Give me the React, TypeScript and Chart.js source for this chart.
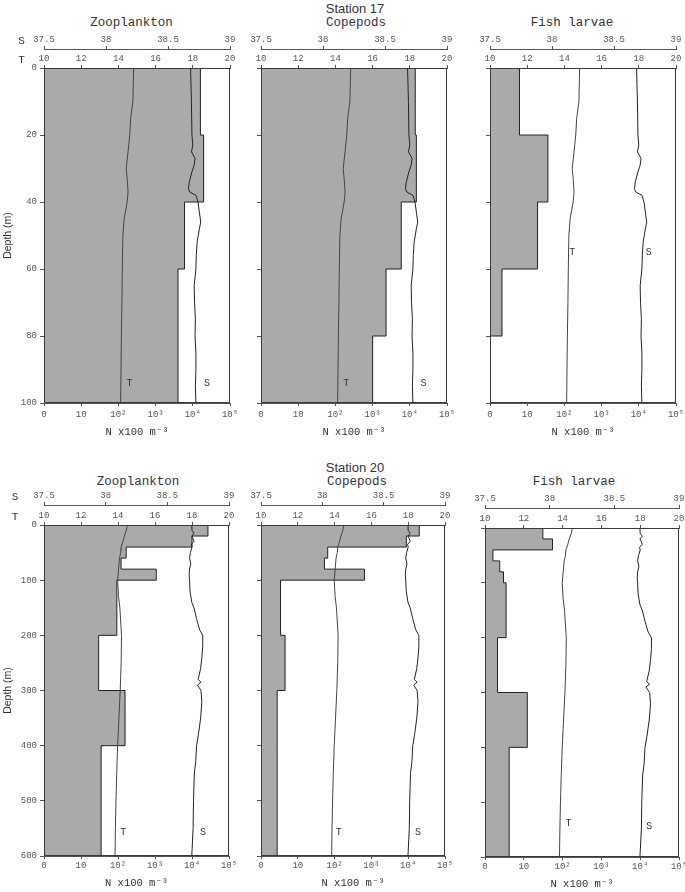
import React, { useEffect, useRef } from 'react';
import { Chart, registerables } from 'chart.js';

Chart.register(...registerables);

const MONO = "'Liberation Mono', 'DejaVu Sans Mono', monospace";
const SANS = "'Liberation Sans', Arial, sans-serif";

// ---------------- data ----------------
const STATION_TITLES = ['Station 17', 'Station 20'];
const GROUP_TITLES = ['Zooplankton', 'Copepods', 'Fish larvae'];

const N_TICK_LABELS = ['0', '10', '10²', '10³', '10⁴', '10⁵'];
const N_TITLE = 'N x100 m⁻³';
const T_TICKS = [10, 12, 14, 16, 18, 20];
const S_TICKS = [37.5, 38, 38.5, 39];
const DEPTH_TICKS_17 = [0, 20, 40, 60, 80, 100];
const DEPTH_TICKS_20 = [0, 100, 200, 300, 400, 500, 600];

// abundance (N x100 m^-3) per depth layer
const BINS_17 = [0, 20, 40, 60, 80, 100];
const ZOO_17 = [16000, 19500, 6000, 4000, 4000];
const COP_17 = [14000, 15000, 5900, 2300, 1000];
const FISH_17 = [5.2, 35, 18, 1.1, 0];

const BINS_20 = [0, 20, 40, 60, 80, 100, 200, 300, 400, 600];
const ZOO_20 = [27000, 10000, 165, 120, 1080, 92, 29, 154, 34];
const COP_20 = [20000, 8900, 64, 52, 645, 2.4, 3.5, 1.75, 1.75];
const FISH_20 = [30, 54, 0.6, 1.4, 2.0, 2.5, 1.1, 11.3, 3.2];

// temperature profiles
const T17_DEPTH = [0, 10, 15, 20, 25, 30, 33, 37, 40, 45, 50, 60, 70, 80, 90, 100];
const T17 = [14.82, 14.78, 14.66, 14.61, 14.52, 14.42, 14.47, 14.52, 14.47, 14.31, 14.24, 14.21, 14.19, 14.16, 14.14, 14.12];
const T20_DEPTH = [0, 10, 20, 30, 40, 50, 60, 80, 100, 130, 150, 200, 250, 300, 350, 400, 450, 500, 550, 600];
const T20 = [14.5, 14.45, 14.34, 14.27, 14.17, 14.15, 14.08, 14.03, 13.98, 14.03, 14.1, 14.19, 14.17, 14.12, 14.05, 13.98, 13.93, 13.89, 13.86, 13.84];

// salinity profiles
const S17_DEPTH = [0, 10, 20, 23, 25, 27, 29, 31, 34, 36, 37, 38, 40, 43, 46, 48, 52, 56, 60, 65, 70, 75, 80, 85, 90, 95, 100];
const S17 = [38.682, 38.689, 38.693, 38.7, 38.689, 38.718, 38.711, 38.693, 38.672, 38.665, 38.675, 38.725, 38.742, 38.753, 38.764, 38.753, 38.735, 38.728, 38.725, 38.711, 38.714, 38.721, 38.718, 38.725, 38.725, 38.721, 38.725];
const S20_DEPTH = [0, 10, 15, 20, 25, 30, 35, 40, 50, 60, 70, 80, 90, 100, 120, 140, 150, 170, 190, 200, 220, 240, 260, 280, 285, 290, 300, 320, 350, 380, 400, 430, 450, 500, 550, 600];
const S20 = [38.698, 38.7, 38.716, 38.698, 38.709, 38.716, 38.695, 38.7, 38.687, 38.68, 38.69, 38.68, 38.677, 38.68, 38.684, 38.698, 38.716, 38.737, 38.762, 38.787, 38.787, 38.78, 38.77, 38.75, 38.772, 38.744, 38.773, 38.78, 38.77, 38.752, 38.737, 38.73, 38.719, 38.712, 38.709, 38.698];

// ---------------- layout ----------------
type PanelCfg = {
  bins: number[]; values: number[];
  tDepth: number[]; t: number[]; sDepth: number[]; s: number[];
  depthTicks: number[];
  l: number; r: number; top: number; bottom: number;
  yW: number; padR: number; sH: number; tH: number; nH: number;
  showDepth: boolean; axisNameDx: number;
  tLabel: number[]; sLabel: number[];
  nTickPad: number; nTitlePad: number;
};

const TOP = { top: 68, bottom: 403, sH: 19, tH: 19, nH: 40, nTickPad: 3, nTitlePad: 4.4 };
const BOT = { top: 525, bottom: 856, sH: 16, tH: 20, nH: 36, nTickPad: 1, nTitlePad: 2.4 };

const PANELS: PanelCfg[] = [
  { ...TOP, bins: BINS_17, values: ZOO_17, tDepth: T17_DEPTH, t: T17, sDepth: S17_DEPTH, s: S17, depthTicks: DEPTH_TICKS_17,
    l: 44, r: 230, yW: 44, padR: 16, showDepth: true, axisNameDx: -22.5, tLabel: [14.6, 94], sLabel: [38.815, 94] },
  { ...TOP, bins: BINS_17, values: COP_17, tDepth: T17_DEPTH, t: T17, sDepth: S17_DEPTH, s: S17, depthTicks: DEPTH_TICKS_17,
    l: 261, r: 447, yW: 15, padR: 16, showDepth: false, axisNameDx: 0, tLabel: [14.58, 94], sLabel: [38.81, 94] },
  { ...TOP, bins: BINS_17, values: FISH_17, tDepth: T17_DEPTH, t: T17, sDepth: S17_DEPTH, s: S17, depthTicks: DEPTH_TICKS_17,
    l: 490, r: 676, yW: 15, padR: 16, showDepth: false, axisNameDx: 0, tLabel: [14.42, 55], sLabel: [38.78, 55] },
  { ...BOT, bins: BINS_20, values: ZOO_20, tDepth: T20_DEPTH, t: T20, sDepth: S20_DEPTH, s: S20, depthTicks: DEPTH_TICKS_20,
    l: 44, r: 229, yW: 44, padR: 16, showDepth: true, axisNameDx: -29, tLabel: [14.29, 558], sLabel: [38.79, 558] },
  { ...BOT, bins: BINS_20, values: COP_20, tDepth: T20_DEPTH, t: T20, sDepth: S20_DEPTH, s: S20, depthTicks: DEPTH_TICKS_20,
    l: 261, r: 445, yW: 15, padR: 16, showDepth: false, axisNameDx: 0, tLabel: [14.22, 558], sLabel: [38.78, 558] },
  { ...BOT, top: 528, bottom: 857, bins: BINS_20, values: FISH_20, tDepth: T20_DEPTH, t: T20, sDepth: S20_DEPTH, s: S20, depthTicks: DEPTH_TICKS_20,
    l: 485, r: 679, yW: 15, padR: 16, showDepth: false, axisNameDx: 0, tLabel: [14.3, 538], sLabel: [38.77, 545] },
];

const STATION_POS = [[355, 8], [355, 467]];
const GROUP_POS = [[131.5, 23], [356, 23], [572, 23], [138, 482], [357, 482], [574, 482]];

function barOutline(bins: number[], values: number[]) {
  const pts: { x: number; y: number }[] = [{ x: 0, y: bins[0] }];
  values.forEach((v, i) => {
    const x = Math.log10(v + 1);
    pts.push({ x, y: bins[i] }, { x, y: bins[i + 1] });
  });
  pts.push({ x: 0, y: bins[bins.length - 1] });
  return pts;
}

const fmtNum = (v: any) => String(+Number(v).toFixed(2));

// a dash pattern with no gap keeps the line solid and makes Chart.js trace
// every point (its x-binned fast path would distort vertical profiles)
const SOLID = [1000, 0];

function Panel({ cfg }: { cfg: PanelCfg }) {
  const ref = useRef<HTMLCanvasElement>(null);
  const left = cfg.l - cfg.yW;
  const top = cfg.top - cfg.sH - cfg.tH;
  const width = cfg.yW + (cfg.r - cfg.l) + cfg.padR;
  const height = cfg.sH + cfg.tH + (cfg.bottom - cfg.top) + cfg.nH;

  useEffect(() => {
    const canvas = ref.current;
    if (!canvas) return;
    const axisColor = '#555';
    const tickFont = { family: MONO, size: 9 };
    const base = (position: string) => ({
      type: 'linear',
      position,
      grid: { drawOnChartArea: false, drawTicks: true, tickLength: 3, color: axisColor, lineWidth: 1 },
      border: { display: true, color: axisColor, width: 1 },
      ticks: { font: tickFont, color: '#555', autoSkip: false, maxRotation: 0, minRotation: 0, callback: fmtNum },
    });

    const frame = {
      id: 'frame',
      afterDatasetsDraw(chart: any) {
        const { ctx, chartArea: a, scales } = chart;
        ctx.save();
        ctx.strokeStyle = '#3a3a3a';
        ctx.lineWidth = 1;
        ctx.strokeRect(Math.round(a.left) + 0.5, Math.round(a.top) + 0.5, Math.round(a.right - a.left) - 1, Math.round(a.bottom - a.top) - 1);
        ctx.fillStyle = '#333';
        ctx.font = `10px ${MONO}`;
        ctx.textAlign = 'center';
        ctx.textBaseline = 'middle';
        ctx.fillText('T', scales.xT.getPixelForValue(cfg.tLabel[0]), scales.y.getPixelForValue(cfg.tLabel[1]));
        ctx.fillText('S', scales.xS.getPixelForValue(cfg.sLabel[0]), scales.y.getPixelForValue(cfg.sLabel[1]));
        if (cfg.showDepth) {
          ctx.font = `11px ${MONO}`;
          ctx.fillText('S', a.left + cfg.axisNameDx, scales.xS.bottom - 8);
          ctx.fillText('T', a.left + cfg.axisNameDx, scales.xT.bottom - 8);
        }
        ctx.restore();
      },
    };

    const dt = cfg.depthTicks;
    const chart = new Chart(canvas, {
      type: 'line',
      data: {
        datasets: [
          {
            data: barOutline(cfg.bins, cfg.values),
            xAxisID: 'x', yAxisID: 'y',
            borderColor: '#222', borderWidth: 1, backgroundColor: '#aaaaaa', borderDash: SOLID,
            fill: 'shape', pointRadius: 0, tension: 0, order: 1,
          },
          {
            data: cfg.tDepth.map((d, i) => ({ x: cfg.t[i], y: d })),
            xAxisID: 'xT', yAxisID: 'y',
            borderColor: '#444', borderWidth: 1, borderDash: SOLID, pointRadius: 0, fill: false, tension: 0, order: 0,
          },
          {
            data: cfg.sDepth.map((d, i) => ({ x: cfg.s[i], y: d })),
            xAxisID: 'xS', yAxisID: 'y',
            borderColor: '#222', borderWidth: 1, borderDash: SOLID, pointRadius: 0, fill: false, tension: 0, order: 0,
          },
        ],
      } as any,
      options: {
        animation: false,
        responsive: false,
        devicePixelRatio: 1,
        events: [],
        layout: { padding: 0 },
        plugins: { legend: { display: false }, tooltip: { enabled: false }, title: { display: false } },
        scales: {
          x: {
            ...base('bottom'),
            min: 0, max: N_TICK_LABELS.length - 1,
            ticks: {
              ...base('bottom').ticks, stepSize: 1, padding: cfg.nTickPad,
              callback: (v: any) => N_TICK_LABELS[Math.round(Number(v))] ?? '',
            },
            title: { display: true, text: N_TITLE, color: '#333', font: { family: MONO, size: 10.5 }, padding: { top: 0, bottom: cfg.nTitlePad } },
            afterFit: (s: any) => { s.height = cfg.nH; },
          },
          xT: {
            ...base('top'), weight: 0,
            min: T_TICKS[0], max: T_TICKS[T_TICKS.length - 1],
            ticks: { ...base('top').ticks, stepSize: T_TICKS[1] - T_TICKS[0], padding: 1 },
            afterFit: (s: any) => { s.height = cfg.tH; },
          },
          xS: {
            ...base('top'), weight: 1,
            min: S_TICKS[0], max: S_TICKS[S_TICKS.length - 1],
            ticks: { ...base('top').ticks, stepSize: S_TICKS[1] - S_TICKS[0], padding: 1 },
            afterFit: (s: any) => { s.height = cfg.sH; },
          },
          y: {
            ...base('left'),
            reverse: true,
            min: dt[0], max: dt[dt.length - 1],
            grid: { drawOnChartArea: false, drawTicks: true, tickLength: 4, color: axisColor },
            ticks: { ...base('left').ticks, display: cfg.showDepth, stepSize: dt[1] - dt[0], padding: 3 },
            title: { display: cfg.showDepth, text: 'Depth (m)', color: '#333', font: { family: SANS, size: 10.5 }, padding: { top: 1.5, bottom: 0 } },
            afterFit: (s: any) => { s.width = cfg.yW; },
          },
          yR: {
            type: 'linear', position: 'right', display: true,
            ticks: { display: false }, grid: { display: false }, border: { display: false },
            afterFit: (s: any) => { s.width = cfg.padR; },
          },
        } as any,
      },
      plugins: [frame],
    });
    return () => chart.destroy();
  }, [cfg]);

  return (
    <canvas
      ref={ref}
      width={width}
      height={height}
      style={{ position: 'absolute', left, top, width, height }}
    />
  );
}

function Label({ x, y, text, font }: { x: number; y: number; text: string; font: string }) {
  return (
    <div
      style={{
        position: 'absolute', left: x, top: y, transform: 'translate(-50%, -50%)',
        font, color: '#333', whiteSpace: 'nowrap', lineHeight: 1,
      }}
    >
      {text}
    </div>
  );
}

export default function App() {
  return (
    <div style={{ position: 'absolute', left: 0, top: 0, width: 685, height: 892, overflow: 'hidden', background: '#fff' }}>
      {PANELS.map((p, i) => <Panel key={i} cfg={p} />)}
      {STATION_TITLES.map((t, i) => (
        <Label key={'st' + i} x={STATION_POS[i][0]} y={STATION_POS[i][1]} text={t} font={`13px ${SANS}`} />
      ))}
      {GROUP_POS.map((p, i) => (
        <Label key={'g' + i} x={p[0]} y={p[1]} text={GROUP_TITLES[i % 3]} font={`12.5px ${MONO}`} />
      ))}
    </div>
  );
}
